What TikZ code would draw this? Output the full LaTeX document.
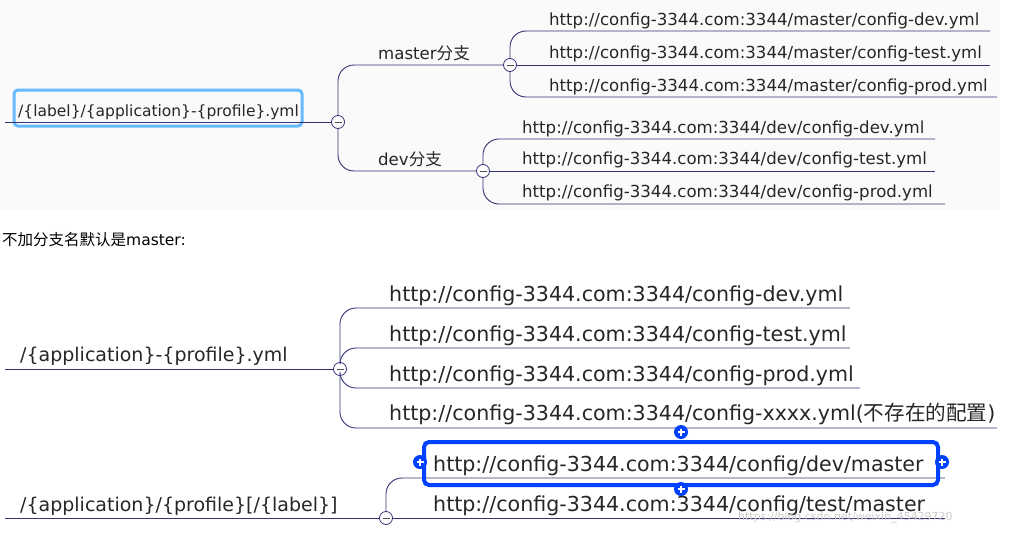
\documentclass[tikz,border=0pt]{standalone}
\usepackage{fontspec}
\setmainfont{DejaVu Sans}
\newfontfamily\cjk{Noto Sans CJK SC}
\begin{document}
\begin{tikzpicture}[x=1pt,y=-1pt,
  ln/.style={draw=black!55!blue!60!gray,line width=0.9pt},
  br/.style={ln,rounded corners=16pt},
  cc/.style={circle,draw=black!55!blue!60!gray,fill=white,line width=0.8pt,minimum size=13pt,inner sep=0pt,
    path picture={\draw[black!70] ([xshift=-3.5pt]path picture bounding box.center)--([xshift=3.5pt]path picture bounding box.center);}},
  t/.style={anchor=base west,inner sep=0pt,font=\fontsize{16.6}{18}\selectfont,text=black!85},
  b/.style={anchor=base west,inner sep=0pt,font=\fontsize{20.6}{23}\selectfont,text=black!85},
  rt/.style={b,font=\fontsize{19}{21}\selectfont}]
\useasboundingbox (0,0) rectangle (1015,533);
\fill[black!2] (0,0) rectangle (1000,210);
% top
\draw[draw=blue!45!cyan!60!white,line width=3pt,rounded corners=4pt] (14,90) rectangle (302,126);
\node[t,font=\fontsize{15.5}{17}\selectfont] (r1) at (18,116) {/\{label\}/\{application\}-\{profile\}.yml};
\draw[ln] (5,122) -- (331,122);
\node[cc] (c1) at (338,122) {};
\draw[br] (c1.north) |- (400,65) -- (503,65);
\draw[br] (c1.south) |- (400,171) -- (476,171);
\node[t] (m) at (378,59) {master{\cjk 分支}};
\node[t] (d) at (378,165) {dev{\cjk 分支}};
\node[cc] (c2) at (510,65) {};
\node[cc] (c3) at (483,171) {};
\draw[br] (c2.north) |- (560,31) -- (990,31);
\draw[ln] (c2.east) -- (990,65);
\draw[br] (c2.south) |- (560,97) -- (997,97);
\node[t] at (549,25) {http://config-3344.com:3344/master/config-dev.yml};
\node[t] at (549,58) {http://config-3344.com:3344/master/config-test.yml};
\node[t] at (549,91) {http://config-3344.com:3344/master/config-prod.yml};
\draw[br] (c3.north) |- (530,139) -- (935,139);
\draw[ln] (c3.east) -- (935,171);
\draw[br] (c3.south) |- (530,204) -- (945,204);
\node[t] at (522,133) {http://config-3344.com:3344/dev/config-dev.yml};
\node[t] at (522,164) {http://config-3344.com:3344/dev/config-test.yml};
\node[t] at (522,197) {http://config-3344.com:3344/dev/config-prod.yml};
\node[anchor=base west,inner sep=0pt,font=\fontsize{15.5}{17}\selectfont] (n) at (2,245) {{\cjk 不加分支名默认是}master:};
% middle
\node[rt] (r2) at (20,361) {/\{application\}-\{profile\}.yml};
\draw[ln] (5,369) -- (333,369);
\node[cc] (c4) at (340,369) {};
\draw[br] (c4.north) |- (400,308) -- (850,308);
\draw[br] (c4.north) |- (400,348) -- (850,348);
\draw[br] (c4.south) |- (400,388) -- (860,388);
\draw[br] (c4.south) |- (400,428) -- (997,428);
\node[b] at (389,301) {http://config-3344.com:3344/config-dev.yml};
\node[b] at (389,341) {http://config-3344.com:3344/config-test.yml};
\node[b] at (389,381) {http://config-3344.com:3344/config-prod.yml};
\node[b] at (389,420) {http://config-3344.com:3344/config-xxxx.yml({\cjk 不存在的配置})};
% bottom
\node[rt] (r3) at (20,511) {/\{application\}/\{profile\}[/\{label\}]};
\draw[ln] (5,518) -- (379,518);
\node[cc] (c5) at (386,518) {};
\draw[br] (c5.north) |- (428,478) -- (945,478);
\draw[ln] (c5.east) -- (945,518);
\draw[draw=blue!75!cyan,line width=4pt,rounded corners=5pt] (424,442) rectangle (938,485);
\foreach \p in {(681,432),(681,489),(420,462),(942,462)}
  {\fill[blue!75!cyan] \p circle (7pt); \draw[white,line width=1.3pt] \p ++(-3.5,0)--++(7,0) \p ++(0,-3.5)--++(0,7);}
\node[b] at (433,471) {http://config-3344.com:3344/config/dev/master};
\node[b] at (433,511) {http://config-3344.com:3344/config/test/master};
\node[anchor=base west,inner sep=0pt,font=\fontsize{11}{13}\selectfont,text=black!20] at (738,520) {https://blog.csdn.net/weixin\_45429720};
\end{tikzpicture}
\end{document}
